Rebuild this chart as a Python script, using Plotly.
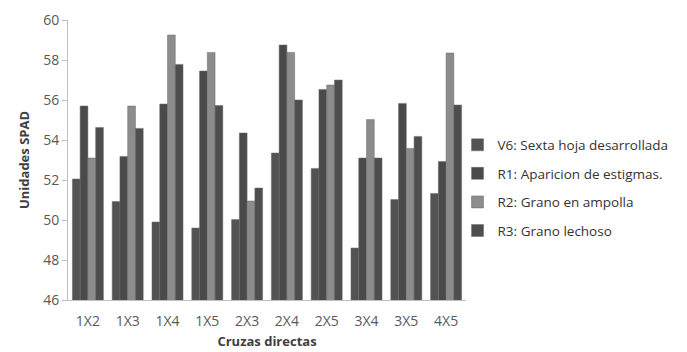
import plotly.graph_objects as go

categories = ["1X2", "1X3", "1X4", "1X5", "2X3", "2X4", "2X5", "3X4", "3X5", "4X5"]
series_names = ["V6: Sexta hoja desarrollada", "R1: Aparicion de estigmas.",
                "R2: Grano en ampolla", "R3: Grano lechoso"]
v6 = [52.05, 50.92, 49.9, 49.6, 50.02, 53.35, 52.58, 48.6, 51.02, 51.33]
r1 = [55.7, 53.18, 55.8, 57.45, 54.35, 58.75, 56.53, 53.1, 55.83, 52.92]
r2 = [53.1, 55.7, 59.25, 58.38, 50.95, 58.38, 56.75, 55.02, 53.58, 58.35]
r3 = [54.63, 54.58, 57.78, 55.72, 51.6, 56.0, 57.0, 53.1, 54.18, 55.75]
colors = ["#535353", "#4a4a4a", "#8c8c8c", "#4e4e4e"]

fig = go.Figure()
for name, vals, col in zip(series_names, [v6, r1, r2, r3], colors):
    fig.add_trace(go.Bar(x=categories, y=vals, name=name, legendgroup=name,
                         marker=dict(color=col, line=dict(color="#6a6a6a", width=0.5))))

fig.update_layout(
    width=687, height=352,
    margin=dict(l=68, r=221, t=20, b=52, autoexpand=False),
    paper_bgcolor="white", plot_bgcolor="white",
    barmode="group", bargap=0.22, bargroupgap=0,
    font=dict(family="Open Sans, sans-serif", size=14, color="#595959"),
    legend=dict(xref="container", yref="container", x=0.666, y=0.632,
                xanchor="left", yanchor="top",
                font=dict(size=13.5, color="#333333"),
                traceorder="grouped", tracegroupgap=8,
                itemwidth=30, bgcolor="rgba(0,0,0,0)"),
    xaxis=dict(showline=True, linecolor="#bfbfbf", linewidth=1,
               ticks="outside", ticklen=8, tickcolor="rgba(0,0,0,0)",
               tickfont=dict(size=14, color="#595959"),
               title=dict(text="<b>Cruzas directas</b>", font=dict(size=13, color="#404040"),
                          standoff=8)),
    yaxis=dict(range=[46, 60], dtick=2, showline=True, linecolor="#bfbfbf", linewidth=1,
               ticks="outside", ticklen=5, tickcolor="#bfbfbf", showgrid=False,
               zeroline=False, tickfont=dict(size=14, color="#595959"),
               title=dict(text="<b>Unidades SPAD</b>", font=dict(size=13, color="#404040"),
                          standoff=10)),
)

fig.write_html("out.html")
